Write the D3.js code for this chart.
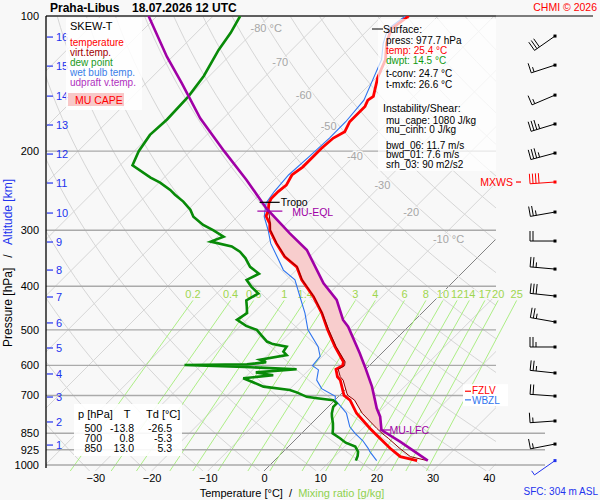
<!DOCTYPE html>
<html>
<head>
<meta charset="utf-8">
<script src="https://cdn.jsdelivr.net/npm/d3@7"></script>
<style>
  body { margin: 0; background: #f8f8f8; }
  svg { font-family: "Liberation Sans", Arial, sans-serif; }
</style>
</head>
<body>
<svg id="chart" width="600" height="500"></svg>
<script>
// Sounding data: [pressure hPa, value °C]
const temperature = [[977.7,25.4],[958,21.7],[918,18.4],[872,14.8],[850,13.0],[829,11.3],[767,6.2],[717,2.7],[700,0.8],[692,0.3],[647,-2.6],[636,-3.7],[612,-5.3],[601,-4.75],[589,-5.3],[545,-9.5],[500,-13.8],[459,-17.8],[422,-22.2],[387,-27.3],[362,-30.5],[344,-34.4],[321,-38.3],[300,-41.8],[290,-43.0],[279,-45.0],[272,-45.5],[261,-46.8],[255,-47.2],[246,-47.2],[238,-46.9],[226,-47.7],[217,-47.2],[206,-47.2],[197,-47.2],[187,-46.9],[181,-46.0],[172,-46.9],[159,-46.9],[154,-47.5],[151,-47.2],[137,-49.8],[125,-51.6],[115,-54.3],[107,-56.0],[100,-55.2]];

const virtualTemp = [[977.7,27.2],[958,23.5],[918,20.1],[872,16.3],[850,14.3],[829,12.5],[767,7.2],[717,3.5],[700,1.5],[692,0.9],[647,-2.1],[636,-3.2],[612,-4.9],[601,-4.4],[589,-5.0],[545,-9.3],[500,-13.6],[459,-17.7],[422,-22.1],[387,-27.2],[362,-30.4],[344,-34.3],[321,-38.2],[300,-41.7],[290,-42.9],[272,-45.4]];

const dewPoint = [[977.7,14.5],[955,14.0],[934,13.3],[910,11.9],[892,9.5],[872,7.7],[850,5.5],[829,4.7],[808,3.8],[780,2.4],[767,1.8],[742,0.9],[729,0.9],[717,-0.3],[710,-3.5],[705,-5.6],[690,-8.0],[681,-9.8],[669,-15.1],[650,-18.5],[641,-20.2],[631,-15.4],[622,-19.0],[612,-12.3],[605,-22.0],[599,-33.0],[597,-22.0],[590,-19.0],[583,-20.5],[569,-16.6],[559,-17.8],[545,-18.1],[538,-21.0],[531,-22.5],[515,-24.5],[500,-26.4],[490,-29.0],[475,-31.7],[459,-31.1],[444,-32.3],[430,-33.5],[415,-32.6],[401,-35.0],[387,-37.1],[375,-36.0],[362,-38.8],[346,-41.2],[335,-43.3],[326,-45.7],[318,-50.3],[310,-48.9],[300,-51.9],[292,-54.6],[280,-57.8],[270,-59.6],[259,-62.3],[250,-65.0],[244,-66.7],[235,-69.8],[229,-72.4],[215,-77.8],[200,-79.2],[184,-80.1],[170,-79.8],[151,-80.1],[136,-81.0],[119,-83.0],[109,-83.9],[100,-85.2]];

const wetBulb = [[977.7,18.2],[934,15.4],[918,14.5],[883,12.2],[850,9.5],[822,7.4],[767,4.4],[743,2.4],[716,0.0],[703,-0.6],[676,-4.4],[647,-6.8],[614,-8.3],[601,-10.1],[573,-10.4],[545,-12.5],[500,-17.3],[459,-20.8],[422,-24.6],[387,-28.5],[368,-32.3],[349,-35.0],[321,-39.3],[300,-42.1],[280,-45.2],[261,-47.3],[246,-47.9],[226,-48.3],[206,-47.9],[187,-47.6],[172,-47.6],[154,-48.2],[137,-50.5],[125,-52.3],[115,-54.9],[107,-56.6],[100,-55.8]];

const parcel = [[977.7,27.3],[887.3,19.0],[835.6,13.6],[780.4,11.0],[747.6,8.9],[669,4.2],[604,-0.6],[564,-3.9],[492,-10.7],[475.4,-12.8],[429,-17.5],[393.9,-22.8],[332,-31.7],[304.8,-37.7],[268.2,-46.3],[231.8,-54.9],[200,-64.0],[169,-74.1],[141.2,-83.6],[123.2,-91.0],[100,-101.5]];

// Axes / grid values
const pressureTicks = [100, 200, 300, 400, 500, 600, 700, 850, 925, 1000];
const tempTicks = [-30, -20, -10, 0, 10, 20, 30, 40];
const isothermLabels = [-80, -70, -60, -50, -40, -30, -20, -10];
const mixingRatios = [0.2, 0.4, 0.6, 1, 1.4, 2, 3, 4, 6, 8, 10, 12, 14, 17, 20, 25];

// Altitude (km ASL) and wind
const altitudeKm = [1, 2, 3, 4, 5, 6, 7, 8, 9, 10, 11, 12, 13, 14, 15, 16];
const altitudePressure = [902.8, 802, 705.8, 627, 548.8, 482.6, 422.5, 368, 318.7, 274.7, 235.5, 203, 174.9, 150.8, 129.3, 111.4];
const windDir = [259, 266, 274, 276, 270, 280, 276, 275, 270, 260, 266, 255, 253, 247, 252, 235];
const windSpeed = [15, 15, 20, 25, 25, 25, 30, 25, 20, 25, 40, 35, 35, 15, 15, 30];
const maxWindKm = 11;
const surfaceWind = { p: 977.7, dir: 235, speed: 5 };

// Levels
const tropoP = 260, eqlP = 272, lfcP = 835.6, fzlvP = 685, wbzlP = 716;

const surfaceLines = [
    { t: "press: 977.7 hPa", c: "#000" },
    { t: "temp: 25.4 °C", c: "#ff0000" },
    { t: "dwpt: 14.5 °C", c: "#119911" }
];
const surfaceLines2 = ["t-conv: 24.7 °C", "t-mxfc: 26.6 °C"];
const instabLines = ["mu_cape: 1080 J/kg", "mu_cinh: 0 J/kg"];
const shearLines = ["bwd_06: 11.7 m/s", "bwd_01: 7.6 m/s", "srh_03: 90 m2/s2"];
const tableRows = [["500", "-13.8", "-26.5"], ["700", "0.8", "-5.3"], ["850", "13.0", "5.3"]];

const svg = d3.select("#chart");
const plot = { left: 46, right: 496, top: 16, bottom: 471 };

const y = d3.scaleLog().domain([100, 1000]).range([16, 465]);
const x = d3.scaleLinear().domain([-30, 40]).range([95.4, 488.8]);
const pBottom = y.invert(plot.bottom);
// skewed x position of temperature t at pressure p
const sx = (t, p) => x(t) + (plot.bottom - y(p));

const defs = svg.append("defs");
defs.append("clipPath").attr("id", "clip")
    .append("rect").attr("x", plot.left).attr("y", plot.top)
    .attr("width", plot.right - plot.left).attr("height", plot.bottom - plot.top);
defs.append("clipPath").attr("id", "clipWide")
    .append("rect").attr("x", plot.left).attr("y", plot.top)
    .attr("width", 560 - plot.left).attr("height", plot.bottom - plot.top);

const grid = svg.append("g").attr("clip-path", "url(#clip)");

// isotherms
const isoT = d3.range(-160, 60, 10);
grid.selectAll(".iso")
    .data(isoT)
    .enter()
    .append("line")
    .attr("x1", d => sx(d, pBottom)).attr("y1", y(pBottom))
    .attr("x2", d => sx(d, 100)).attr("y2", y(100))
    .attr("stroke", d => d === 0 ? "#666" : "#d6d6d6")
    .attr("stroke-width", d => d === 0 ? 0.8 : 1);

// dry adiabats
const thetas = d3.range(230, 470, 10);
const adiabatP = d3.range(0, 41).map(i => pBottom * Math.pow(100 / pBottom, i / 40));
const lineTP = d3.line().x(d => sx(d[1], d[0])).y(d => y(d[0]));
grid.selectAll(".adiabat")
    .data(thetas)
    .enter()
    .append("path")
    .attr("d", th => lineTP(adiabatP.map(p => [p, th * Math.pow(p / 1000, 0.2857) - 273.15])))
    .attr("fill", "none")
    .attr("stroke", "#d6d6d6")
    .attr("stroke-width", 1);

// mixing ratio lines
const dewFromMix = (w, p) => {
    const e = w * p / (622 + w);
    const l = Math.log(e / 6.112);
    return 243.5 * l / (17.67 - l);
};
const mixG = svg.append("g").attr("clip-path", "url(#clipWide)");
mixG.selectAll(".mix")
    .data(mixingRatios)
    .enter()
    .append("line")
    .attr("x1", w => sx(dewFromMix(w, pBottom), pBottom)).attr("y1", y(pBottom))
    .attr("x2", w => sx(dewFromMix(w, 430), 430)).attr("y2", y(430))
    .attr("stroke", "#a4ec78")
    .attr("stroke-width", 0.9);

// pressure lines
svg.selectAll(".pline")
    .data(pressureTicks)
    .enter()
    .append("line")
    .attr("x1", plot.left)
    .attr("x2", d => d >= 850 ? 545 : plot.right)
    .attr("y1", d => y(d)).attr("y2", d => y(d))
    .attr("stroke", "#aaa")
    .attr("stroke-width", 1.4);

// top border and left axis
svg.append("line").attr("x1", plot.left).attr("x2", 593).attr("y1", 16).attr("y2", 16)
    .attr("stroke", "#000").attr("stroke-width", 1);

const yAxis = svg.append("g")
    .attr("transform", `translate(${plot.left},0)`)
    .call(d3.axisLeft(y).tickValues(pressureTicks).tickSize(0).tickPadding(7).tickFormat(d3.format("d")));
yAxis.select(".domain").attr("d", `M0,16V468`).attr("stroke", "#000").attr("stroke-width", 1.3);
yAxis.selectAll("text").style("font-size", "11px").attr("fill", "#000");

const xAxis = svg.append("g")
    .attr("transform", `translate(0,${plot.bottom})`)
    .call(d3.axisBottom(x).tickValues(tempTicks).tickSize(0).tickPadding(3));
xAxis.select(".domain").remove();
xAxis.selectAll("text").style("font-size", "11px").attr("fill", "#000");

// altitude ticks
const kmG = svg.append("g");
altitudeKm.forEach((km, i) => {
    const yy = y(altitudePressure[i]);
    kmG.append("line").attr("x1", 47).attr("x2", 53).attr("y1", yy).attr("y2", yy)
        .attr("stroke", "#2233ee").attr("stroke-width", 1.2);
    kmG.append("text").attr("x", 56).attr("y", yy + 4).style("font-size", "11px")
        .attr("fill", "#2233ee").text(km);
});

// isotherm labels along a dry adiabat
const labelTheta = 366.5;
const labelP = t => 1000 * Math.pow((t + 273.15) / labelTheta, 1 / 0.2857);
svg.selectAll(".isoLabel")
    .data(isothermLabels)
    .enter()
    .append("text")
    .attr("x", d => sx(d, labelP(d)) - 7)
    .attr("y", d => y(labelP(d)) + 4)
    .style("font-size", "11px")
    .attr("fill", "#a6a6a6")
    .attr("stroke", "#f8f8f8").attr("stroke-width", 3).attr("paint-order", "stroke")
    .text(d => (d === -80 || d === -10) ? `${d} °C` : d);

// mixing ratio labels
svg.selectAll(".mixLabel")
    .data(mixingRatios)
    .enter()
    .append("text")
    .attr("x", w => sx(dewFromMix(w, 430), 430))
    .attr("y", y(430) - 2)
    .attr("text-anchor", "middle")
    .style("font-size", "11px")
    .attr("fill", "#9fd64f")
    .attr("stroke", "#f8f8f8").attr("stroke-width", 2).attr("paint-order", "stroke")
    .text(d => d);

// profiles
const prof = svg.append("g").attr("clip-path", "url(#clipWide)");

// CAPE area between parcel and virtual temperature
const capeParcel = parcel.filter(d => d[0] <= lfcP && d[0] >= 268);
const capeEnv = virtualTemp.filter(d => d[0] <= 840 && d[0] >= eqlP).reverse();
prof.append("path")
    .attr("d", lineTP(capeParcel.concat(capeEnv)) + "Z")
    .attr("fill", "#f8cdcd")
    .attr("stroke", "none");

prof.append("path").attr("d", lineTP(wetBulb))
    .attr("fill", "none").attr("stroke", "#2f74ee").attr("stroke-width", 1.1);
prof.append("path").attr("d", lineTP(dewPoint))
    .attr("fill", "none").attr("stroke", "#088a08").attr("stroke-width", 2.6);
prof.append("path").attr("d", lineTP(temperature))
    .attr("fill", "none").attr("stroke", "#ff0000").attr("stroke-width", 2.8);
prof.append("path").attr("d", lineTP(virtualTemp))
    .attr("fill", "none").attr("stroke", "#8b0000").attr("stroke-width", 1);
prof.append("path").attr("d", lineTP(parcel))
    .attr("fill", "none").attr("stroke", "#a000a6").attr("stroke-width", 2.6);

// level markers
const tropoX = sx(temperature.find(d => d[0] === 261)[1], tropoP);
svg.append("line").attr("x1", tropoX - 10).attr("x2", tropoX + 10)
    .attr("y1", y(tropoP)).attr("y2", y(tropoP)).attr("stroke", "#000").attr("stroke-width", 1.2);
svg.append("text").attr("x", tropoX + 11).attr("y", y(tropoP) + 4)
    .style("font-size", "10.5px").text("Tropo");

const eqlX = sx(-46, eqlP);
svg.append("line").attr("x1", eqlX - 8).attr("x2", eqlX + 17)
    .attr("y1", y(eqlP)).attr("y2", y(eqlP)).attr("stroke", "#a000a6").attr("stroke-width", 1.2);
svg.append("text").attr("x", eqlX + 27).attr("y", y(eqlP) + 5)
    .style("font-size", "10.5px").attr("fill", "#a000a6").text("MU-EQL");

const lfcX = sx(13.6, lfcP);
svg.append("line").attr("x1", lfcX - 2).attr("x2", lfcX + 9)
    .attr("y1", y(lfcP)).attr("y2", y(lfcP)).attr("stroke", "#a000a6").attr("stroke-width", 1.2);
svg.append("text").attr("x", lfcX + 8).attr("y", y(lfcP) + 4)
    .style("font-size", "10.5px").attr("fill", "#a000a6").text("MU-LFC");

// FZLV / WBZL
svg.append("rect").attr("x", 463).attr("y", y(fzlvP) - 7).attr("width", 45).attr("height", 22)
    .attr("fill", "#fff");
[[fzlvP, "FZLV", "#ff0000", -1], [wbzlP, "WBZL", "#2f74ee", 1]].forEach(([p, t, c, dy]) => {
    svg.append("line").attr("x1", 465).attr("x2", 471).attr("y1", y(p)).attr("y2", y(p))
        .attr("stroke", c).attr("stroke-width", 1.2);
    svg.append("text").attr("x", 472).attr("y", y(p) + 3.5 + dy).style("font-size", "10px")
        .attr("fill", c).text(t);
});

// wind barbs
function drawBarb(px, py, dir, spd, color) {
    const g = svg.append("g").attr("transform", `translate(${px},${py})`);
    const rad = dir * Math.PI / 180;
    const u = [Math.sin(rad), -Math.cos(rad)];
    const n = [-u[1], u[0]];
    const L = 25;
    g.append("line").attr("x1", 0).attr("y1", 0).attr("x2", u[0] * L).attr("y2", u[1] * L)
        .attr("stroke", color).attr("stroke-width", 1);
    const full = Math.floor(spd / 10);
    const half = Math.round((spd % 10) / 5);
    let pos = L;
    for (let i = 0; i < full; i++) {
        const bx = u[0] * pos, by = u[1] * pos;
        g.append("line").attr("x1", bx).attr("y1", by)
            .attr("x2", bx + n[0] * 10).attr("y2", by + n[1] * 10)
            .attr("stroke", color).attr("stroke-width", 1);
        pos -= 3;
    }
    if (half) {
        const bx = u[0] * pos, by = u[1] * pos;
        g.append("line").attr("x1", bx).attr("y1", by)
            .attr("x2", bx + n[0] * 5).attr("y2", by + n[1] * 5)
            .attr("stroke", color).attr("stroke-width", 1);
    }
    g.append("rect").attr("x", -1.5).attr("y", -1.5).attr("width", 3).attr("height", 3).attr("fill", color);
}

altitudeKm.forEach((km, i) => {
    drawBarb(555, y(altitudePressure[i]) - 1, windDir[i], windSpeed[i], km === maxWindKm ? "#ff0000" : "#000");
});
drawBarb(555, y(surfaceWind.p), surfaceWind.dir, surfaceWind.speed, "#2233ee");

const mxY = y(altitudePressure[altitudeKm.indexOf(maxWindKm)]) - 1;
svg.append("text").attr("x", 513).attr("y", mxY + 4).attr("text-anchor", "end")
    .style("font-size", "10.5px").attr("fill", "#ff0000").text("MXWS");
svg.append("line").attr("x1", 516).attr("x2", 521).attr("y1", mxY).attr("y2", mxY)
    .attr("stroke", "#ff0000").attr("stroke-width", 1.2);

// legend box
svg.append("rect").attr("x", 66).attr("y", 18).attr("width", 76).attr("height", 92).attr("fill", "#fff").attr("opacity", 0.85);
svg.append("text").attr("x", 70).attr("y", 30).style("font-size", "11px").text("SKEW-T");
const legendItems = [
    ["temperature", "#ff0000"], ["virt.temp.", "#a00000"], ["dew point", "#1a9a1a"],
    ["wet bulb temp.", "#3a7ee8"], ["udpraft v.temp.", "#b030c0"]
];
legendItems.forEach((d, i) => {
    svg.append("text").attr("x", 70).attr("y", 46 + i * 10).style("font-size", "10px")
        .attr("fill", d[1]).text(d[0]);
});
svg.append("rect").attr("x", 68).attr("y", 93).attr("width", 56).attr("height", 13).attr("fill", "#f8c8c8");
svg.append("text").attr("x", 75).attr("y", 104).style("font-size", "10.5px").attr("fill", "#ff0000").text("MU CAPE");

// info box
svg.append("rect").attr("x", 378).attr("y", 19).attr("width", 118).attr("height", 152).attr("fill", "#fff").attr("opacity", 0.72);
svg.append("line").attr("x1", 372).attr("x2", 383).attr("y1", 29).attr("y2", 29).attr("stroke", "#000");
svg.append("text").attr("x", 383).attr("y", 33).style("font-size", "10.5px").text("Surface:");
surfaceLines.forEach((d, i) => {
    svg.append("text").attr("x", 386).attr("y", 43.5 + i * 10).style("font-size", "10px").attr("fill", d.c).text(d.t);
});
surfaceLines2.forEach((d, i) => {
    svg.append("text").attr("x", 386).attr("y", 77 + i * 10.5).style("font-size", "10px").text(d);
});
svg.append("text").attr("x", 383).attr("y", 112).style("font-size", "10.5px").text("Instability/Shear:");
instabLines.forEach((d, i) => {
    svg.append("text").attr("x", 386).attr("y", 123.5 + i * 9.7).style("font-size", "10px").text(d);
});
shearLines.forEach((d, i) => {
    svg.append("text").attr("x", 386).attr("y", 148.5 + i * 9.7).style("font-size", "10px").text(d);
});

// table box
svg.append("rect").attr("x", 74).attr("y", 404).attr("width", 108).attr("height", 52).attr("fill", "#fff").attr("opacity", 0.9);
svg.append("text").attr("x", 78).attr("y", 418).style("font-size", "11px").text("p [hPa]");
svg.append("text").attr("x", 127).attr("y", 418).attr("text-anchor", "middle").style("font-size", "11px").text("T");
svg.append("text").attr("x", 146).attr("y", 418).style("font-size", "11px").text("Td [°C]");
tableRows.forEach((r, i) => {
    const yy = 432 + i * 10;
    svg.append("text").attr("x", 102).attr("y", yy).attr("text-anchor", "end").style("font-size", "10.5px").text(r[0]);
    svg.append("text").attr("x", 134).attr("y", yy).attr("text-anchor", "end").style("font-size", "10.5px").text(r[1]);
    svg.append("text").attr("x", 172).attr("y", yy).attr("text-anchor", "end").style("font-size", "10.5px").text(r[2]);
});

// titles
svg.append("text").attr("x", 50).attr("y", 12).style("font-size", "12px").style("font-weight", "bold")
    .text("Praha-Libus");
svg.append("text").attr("x", 132).attr("y", 12).style("font-size", "12px").style("font-weight", "bold")
    .text("18.07.2026 12 UTC");
svg.append("text").attr("x", 597).attr("y", 11).attr("text-anchor", "end").style("font-size", "10.5px")
    .attr("fill", "#ff0000").text("CHMI © 2026");

const xTitle = svg.append("text").attr("x", 292).attr("y", 497).attr("text-anchor", "middle")
    .style("font-size", "11px").style("white-space", "pre");
xTitle.append("tspan").attr("fill", "#000").text("Temperature [°C]  /  ");
xTitle.append("tspan").attr("fill", "#8fd14f").text("Mixing ratio [g/kg]");

const yTitle = svg.append("text").attr("transform", "translate(12,263) rotate(-90)")
    .attr("text-anchor", "middle").style("font-size", "12px").style("white-space", "pre");
yTitle.append("tspan").attr("fill", "#000").text("Pressure [hPa]   /   ");
yTitle.append("tspan").attr("fill", "#2233ee").text("Altitude [km]");

svg.append("text").attr("x", 598).attr("y", 495).attr("text-anchor", "end").style("font-size", "10px")
    .attr("fill", "#2233ee").text("SFC: 304 m ASL");
</script>
</body>
</html>
